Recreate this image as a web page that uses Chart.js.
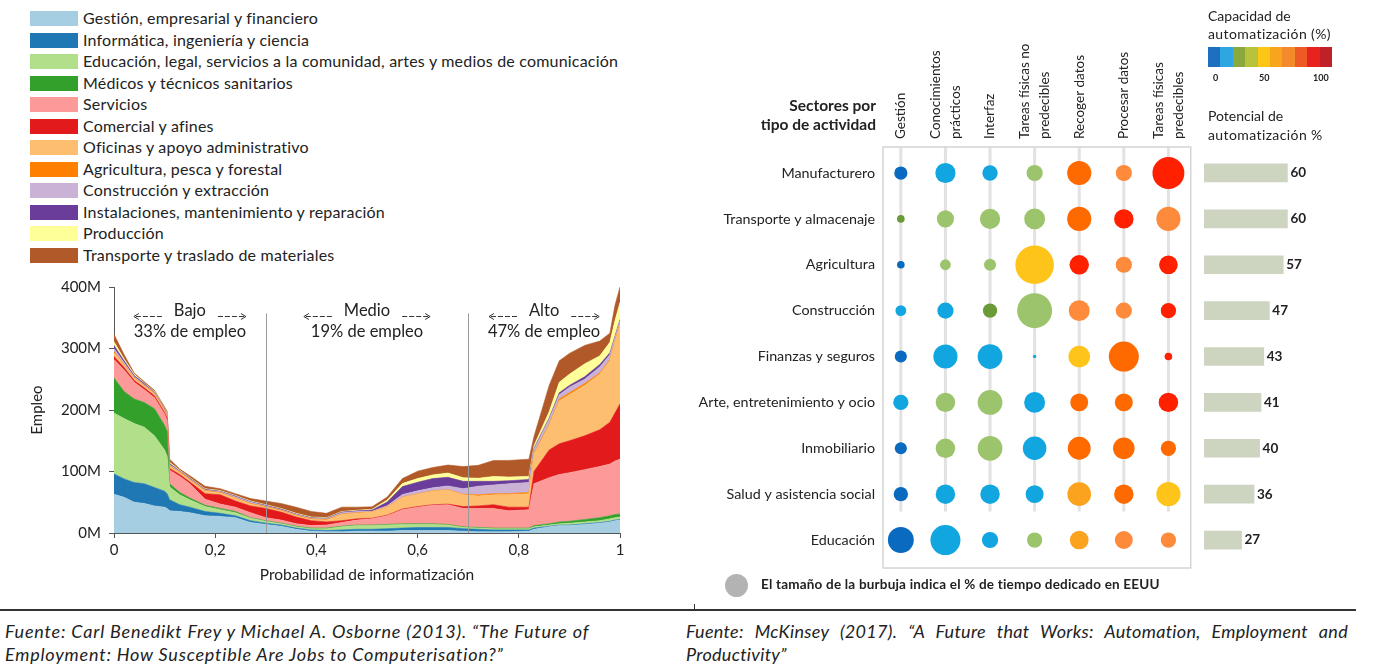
<!DOCTYPE html>
<html lang="es">
<head>
<meta charset="utf-8">
<title>Informatización y automatización del empleo</title>
<script src="https://cdn.jsdelivr.net/npm/chart.js@4.4.1/dist/chart.umd.min.js"></script>
<style>
  body { margin: 0; background: #fff; font-family: Lato, "Open Sans", sans-serif; color: #222; }
  #page { position: relative; width: 1381px; height: 672px; overflow: hidden; }
  canvas { position: absolute; }
  .item { position: absolute; left: 30px; font-size: 16px; letter-spacing: 0.2px; line-height: 18px; white-space: nowrap; }
  .item .sw { display: inline-block; width: 48px; height: 15px; vertical-align: -2px; margin-right: 5px; }
  .txt { position: absolute; white-space: nowrap; }
  #barra { position: absolute; left: 1208px; top: 47px; height: 20px; display: flex; }
  #barra div { width: 12.4px; height: 20px; }
  .fuente { position: absolute; font-size: 18px; letter-spacing: 0.8px; font-style: italic; line-height: 23px; white-space: nowrap; }
</style>
</head>
<body>
<div id="page">
  <div id="leyenda"></div>
  <canvas id="area" width="640" height="330" style="left:0;top:270px"></canvas>
  <canvas id="burbujas" width="530" height="600" style="left:680px;top:0"></canvas>
  <canvas id="barras" width="181" height="421" style="left:1200px;top:147px"></canvas>

  <div class="txt" style="left:1208px;top:7px;font-size:14px">Capacidad de</div>
  <div class="txt" style="left:1208px;top:25px;font-size:14px;letter-spacing:0.4px">automatización (%)</div>
  <div id="barra"></div>
  <div class="txt" style="left:1213px;top:72px;font-size:9px;font-weight:700">0</div>
  <div class="txt" style="left:1259px;top:72px;font-size:9px;font-weight:700">50</div>
  <div class="txt" style="left:1313px;top:72px;font-size:9px;font-weight:700">100</div>
  <div class="txt" style="left:1208px;top:107px;font-size:14px">Potencial de</div>
  <div class="txt" style="left:1208px;top:126px;font-size:14px;letter-spacing:0.4px">automatización %</div>

  <div style="position:absolute;left:725px;top:574px;width:23px;height:23px;border-radius:50%;background:#b3b3b3"></div>
  <div class="txt" style="left:761px;top:576px;font-size:13.5px;letter-spacing:0.2px;font-weight:700">El tamaño de la burbuja indica el % de tiempo dedicado en EEUU</div>

  <div style="position:absolute;left:0;top:609px;width:1356px;height:2px;background:#333"></div>
  <div style="position:absolute;left:694px;top:604px;width:1px;height:6px;background:#333"></div>
  <div class="fuente" style="left:5px;top:620px">Fuente: Carl Benedikt Frey y Michael A. Osborne (2013). “The Future of</div>
  <div class="fuente" style="left:5px;top:643px">Employment: How Susceptible Are Jobs to Computerisation?”</div>
  <div class="fuente" style="left:686px;top:620px;width:662px;white-space:normal;height:23px;overflow:hidden;text-align:justify;text-align-last:justify;letter-spacing:0.3px">Fuente: McKinsey (2017). “A Future that Works: Automation, Employment and</div>
  <div class="fuente" style="left:686px;top:643px;letter-spacing:0.3px">Productivity”</div>
</div>

<script>
// ---- panel izquierdo: empleo por probabilidad de informatización (millones) ----
const probs = [0, 0.02, 0.04, 0.06, 0.08, 0.1, 0.105, 0.11, 0.13, 0.15, 0.18, 0.21, 0.24, 0.27, 0.3,
    0.33, 0.36, 0.39, 0.42, 0.45, 0.48, 0.51, 0.54, 0.57, 0.6, 0.63, 0.66, 0.69, 0.72, 0.75,
    0.78, 0.82, 0.83, 0.86, 0.88, 0.9, 0.93, 0.96, 0.98, 0.99, 1];

const grupos = [
    "Gestión, empresarial y financiero",
    "Informática, ingeniería y ciencia",
    "Educación, legal, servicios a la comunidad, artes y medios de comunicación",
    "Médicos y técnicos sanitarios",
    "Servicios",
    "Comercial y afines",
    "Oficinas y apoyo administrativo",
    "Agricultura, pesca y forestal",
    "Construcción y extracción",
    "Instalaciones, mantenimiento y reparación",
    "Producción",
    "Transporte y traslado de materiales"
];
const colores = ["#a6cee3", "#1f78b4", "#b2df8a", "#33a02c", "#fb9a99", "#e31a1c",
    "#fdbf6f", "#ff7f00", "#cab2d6", "#6a3d9a", "#ffff99", "#b15928"];

const gestion      = [63,58,50,48,44,42,40,36,35,33,28,27,25,17,14,11,6,3,2,2,3,3,3,4,4,4,4,3,2,2,2,3,6,10,12,12,14,16,18,20,21];
const informatica  = [33,30,32,32,30,26,24,18,11,9,7,5,3,3,2,2,2,2,2,3,3,3,4,4,5,5,5,4,4,3,3,2,2,1,1,1,1,1,1,1,1];
const educacion    = [99,98,96,92,84,67,61,21,16,12,8,6,5,4,3,2,2,2,3,5,6,6,6,6,5,5,4,2,2,2,2,2,2,2,2,3,3,3,4,4,4];
const medicos      = [57,44,40,40,44,40,40,5,4,3,2,2,2,1,1,1,1,1,1,1,1,1,1,1,1,1,1,1,1,1,1,1,2,2,3,3,4,5,5,5,5];
const servicios    = [30,35,27,21,18,18,18,22,26,23,10,7,7,8,5,5,4,4,5,6,8,10,14,23,27,30,32,30,31,32,28,30,68,75,77,79,81,83,84,87,89];
const comercial    = [5,4,3,3,3,3,4,3,3,3,9,15,10,11,15,13,11,8,5,3,2,1,1,1,1,1,1,3,4,6,6,4,20,45,50,52,55,60,68,78,90];
const oficinas     = [6,4,3,3,3,3,3,3,3,3,4,3,4,3,2,2,2,2,3,10,9,10,13,19,20,22,23,19,16,16,20,22,28,40,70,75,82,90,100,115,130];
const agricultura  = [2,1,1,1,1,1,1,1,1,1,1,1,1,1,1,1,1,1,1,1,1,0.5,0.5,0.5,0.5,0.5,0.5,1,2,2,2,2,2,2,3,3,3,2,2,2,2];
const construccion = [5,3,2,1,1,1,1,2,1,1,1,1,2,2,1,1,1,1,1,2,2,1,2,4,5,5,6,9,14,14,16,16,6,8,7,9,7,10,8,6,3];
const instalacion  = [5,3,2,2,1,1,1,2,1,1,1,1,1,1,1,1,1,1,1,1,1,2,6,13,14,15,14,12,8,6,5,5,2,2,3,3,4,4,3,2,2];
const produccion   = [6,3,2,1,1,1,2,2,1,1,1,1,1,1,1,1,1,1,1,1,1,1,3,5,6,6,7,6,5,8,6,5,4,10,17,18,21,14,17,25,28];
const transporte   = [12,7,2,2,2,2,3,5,2,3,4,3,3,4,6,8,10,9,7,7,5,4,5,8,12,12,13,18,21,26,27,28,15,43,35,34,30,24,15,25,25];

const series = [gestion, informatica, educacion, medicos, servicios, comercial,
    oficinas, agricultura, construccion, instalacion, produccion, transporte];

const cortes = [0.3, 0.7];
const zonas = ["Bajo", "Medio", "Alto"];
const cuotas = ["33% de empleo", "19% de empleo", "47% de empleo"];

// ---- panel derecho: McKinsey ----
const sectores = ["Manufacturero", "Transporte y almacenaje", "Agricultura", "Construcción",
    "Finanzas y seguros", "Arte, entretenimiento y ocio", "Inmobiliario",
    "Salud y asistencia social", "Educación"];
const actividades = [["Gestión"], ["Conocimientos", "prácticos"], ["Interfaz"],
    ["Tareas físicas no", "predecibles"], ["Recoger datos"], ["Procesar datos"],
    ["Tareas físicas", "predecibles"]];

// % del tiempo dedicado (tamaño de burbuja)
const tiempo = [
    [6, 14, 8, 9, 20, 9, 35],
    [2, 10, 14, 15, 20, 13, 20],
    [2, 4, 5, 51, 13, 9, 12],
    [4, 9, 7, 42, 15, 9, 8],
    [5, 20, 21, 0.4, 16, 31, 2],
    [8, 13, 21, 15, 11, 11, 13],
    [5, 13, 21, 19, 18, 16, 8],
    [7, 13, 13, 11, 19, 13, 20],
    [23, 31, 9, 8, 12, 11, 8]
];
// capacidad de automatización % (color)
const capacidad = [
    [9, 18, 12, 35, 76, 66, 88],
    [22, 33, 34, 36, 74, 84, 67],
    [6, 34, 36, 47, 82, 65, 83],
    [14, 16, 25, 37, 64, 66, 86],
    [7, 17, 15, 13, 44, 73, 85],
    [13, 31, 33, 15, 72, 74, 84],
    [8, 32, 35, 16, 73, 75, 72],
    [6, 15, 14, 16, 56, 73, 46],
    [4, 17, 16, 34, 55, 63, 64]
];
const potencial = [60, 60, 57, 47, 43, 41, 40, 36, 27];

const coloresBurbuja = ["#0a6abf", "#12a6e0", "#6b9a38", "#9cc46c", "#fec41a",
    "#fba21f", "#fe8a3c", "#ff6a00", "#ff2000", "#c1272d"];
const coloresBarra = ["#1f6fc0", "#2ea7e0", "#8aa83e", "#b8c23a", "#fdc617",
    "#f8a41d", "#f58a2a", "#ee5a24", "#e8231f", "#be2228"];

const FONT = "Lato, 'Open Sans', sans-serif";

// leyenda izquierda
const leyenda = document.getElementById("leyenda");
grupos.forEach((g, i) => {
    const div = document.createElement("div");
    div.className = "item";
    div.style.top = (9 + i * 21.5) + "px";
    div.innerHTML = `<span class="sw" style="background:${colores[i]}"></span>${g}`;
    leyenda.appendChild(div);
});

// barra de colores
const barra = document.getElementById("barra");
coloresBarra.forEach(c => {
    const d = document.createElement("div");
    d.style.background = c;
    barra.appendChild(d);
});

function flecha(ctx, x1, x2, y) {
    const dir = Math.sign(x2 - x1);
    ctx.save();
    ctx.setLineDash([5, 2]);
    ctx.beginPath();
    ctx.moveTo(x1, y);
    ctx.lineTo(x2, y);
    ctx.stroke();
    ctx.setLineDash([]);
    ctx.beginPath();
    ctx.moveTo(x2 - dir * 5, y - 3);
    ctx.lineTo(x2, y);
    ctx.lineTo(x2 - dir * 5, y + 3);
    ctx.stroke();
    ctx.restore();
}

const zonasPlugin = {
    id: "zonas",
    afterDatasetsDraw(chart) {
        const { ctx, scales: { x, y } } = chart;
        ctx.save();
        ctx.strokeStyle = "#9a9a9a";
        ctx.lineWidth = 1;
        cortes.forEach(c => {
            const px = Math.round(x.getPixelForValue(c)) + 0.5;
            ctx.beginPath();
            ctx.moveTo(px, y.getPixelForValue(357));
            ctx.lineTo(px, y.getPixelForValue(0));
            ctx.stroke();
        });
        const limites = [0, ...cortes, 1];
        ctx.fillStyle = "#222";
        ctx.strokeStyle = "#333";
        ctx.textAlign = "center";
        ctx.textBaseline = "middle";
        ctx.font = "16.5px " + FONT;
        zonas.forEach((z, i) => {
            const cx = x.getPixelForValue((limites[i] + limites[i + 1]) / 2);
            ctx.fillText(z, cx, y.getPixelForValue(361));
            ctx.fillText(cuotas[i], cx, y.getPixelForValue(327));
            const half = ctx.measureText(z).width / 2;
            const ay = y.getPixelForValue(352);
            flecha(ctx, cx - half - 12, cx - half - 40, ay);
            flecha(ctx, cx + half + 12, cx + half + 40, ay);
        });
        ctx.restore();
    }
};

new Chart(document.getElementById("area"), {
    type: "line",
    data: {
        datasets: grupos.map((g, i) => ({
            label: g,
            data: series[i].map((v, j) => ({ x: probs[j], y: v })),
            backgroundColor: colores[i],
            borderColor: colores[i],
            borderWidth: 0.6,
            pointRadius: 0,
            tension: 0,
            fill: i === 0 ? "origin" : "-1"
        }))
    },
    options: {
        responsive: false,
        animation: false,
        layout: { padding: { top: 10, right: 20, left: 0, bottom: 0 } },
        plugins: { legend: { display: false }, tooltip: { enabled: false } },
        scales: {
            x: {
                type: "linear", min: 0, max: 1,
                ticks: {
                    stepSize: 0.2, padding: 3, color: "#222",
                    font: { family: FONT, size: 15 },
                    callback: v => String(Math.round(v * 10) / 10).replace(".", ",")
                },
                grid: { drawOnChartArea: false, color: "#555", tickLength: 5 },
                border: { color: "#555" },
                title: {
                    display: true, text: "Probabilidad de informatización", color: "#222",
                    font: { family: FONT, size: 15.5 }, padding: { top: 4, bottom: 16 }
                },
                afterFit(s) { s.height = 67; }
            },
            y: {
                stacked: true, min: 0, max: 400,
                ticks: {
                    stepSize: 100, padding: 8, color: "#222",
                    font: { family: FONT, size: 15 },
                    callback: v => v + "M"
                },
                grid: { drawOnChartArea: false, color: "#555", tickLength: 5 },
                border: { color: "#555" },
                title: {
                    display: true, text: "Empleo", color: "#222",
                    font: { family: FONT, size: 15 }, padding: { top: 28, bottom: 0 }
                },
                afterFit(s) { s.width = 114; }
            }
        }
    },
    plugins: [zonasPlugin]
});

// burbujas
const colorDe = v => coloresBurbuja[Math.min(9, Math.floor(v / 10))];
const burbujas = [];
sectores.forEach((s, i) => {
    actividades.forEach((a, j) => {
        burbujas.push({ x: j, y: i, r: 2.7 * Math.sqrt(tiempo[i][j]), c: colorDe(capacidad[i][j]) });
    });
});

const cabecerasPlugin = {
    id: "cabeceras",
    beforeDatasetsDraw(chart) {
        const { ctx, chartArea, scales: { x, y } } = chart;
        ctx.save();
        ctx.strokeStyle = "#e2e2e2";
        ctx.lineWidth = 3;
        actividades.forEach((a, j) => {
            const px = x.getPixelForValue(j);
            ctx.beginPath();
            ctx.moveTo(px, chartArea.top);
            ctx.lineTo(px, y.getPixelForValue(7.38));
            ctx.stroke();
        });
        ctx.strokeStyle = "#d4d4d4";
        ctx.lineWidth = 1.5;
        ctx.strokeRect(chartArea.left, chartArea.top, chartArea.right - chartArea.left, chartArea.bottom - chartArea.top);
        ctx.restore();
    },
    afterDraw(chart) {
        const { ctx, chartArea, scales: { x } } = chart;
        ctx.save();
        ctx.fillStyle = "#222";
        ctx.font = "13.5px " + FONT;
        ctx.textAlign = "left";
        ctx.textBaseline = "middle";
        actividades.forEach((lineas, j) => {
            ctx.save();
            ctx.translate(x.getPixelForValue(j), chartArea.top - 8);
            ctx.rotate(-Math.PI / 2);
            lineas.forEach((ln, k) => ctx.fillText(ln, 0, (k - (lineas.length - 1) / 2) * 20));
            ctx.restore();
        });
        ctx.font = "bold 15.5px " + FONT;
        ctx.textAlign = "right";
        ctx.fillText("Sectores por", chartArea.left - 7, 106);
        ctx.fillText("tipo de actividad", chartArea.left - 7, 125);
        ctx.restore();
    }
};

new Chart(document.getElementById("burbujas"), {
    type: "bubble",
    data: {
        datasets: [{
            data: burbujas,
            backgroundColor: burbujas.map(b => b.c),
            borderWidth: 0,
            hoverRadius: 0
        }]
    },
    options: {
        responsive: false,
        animation: false,
        layout: { padding: { top: 147, right: 14, bottom: 32, left: 0 } },
        plugins: { legend: { display: false }, tooltip: { enabled: false } },
        scales: {
            x: { type: "linear", min: -0.4, max: 6.5, display: false },
            y: {
                type: "linear", min: -0.567, max: 8.61, reverse: true,
                afterBuildTicks(s) { s.ticks = sectores.map((t, i) => ({ value: i })); },
                ticks: {
                    padding: 8, color: "#222", font: { family: FONT, size: 14.3 },
                    callback: v => sectores[v]
                },
                grid: { display: false, drawTicks: false, tickLength: 0 },
                border: { display: false },
                afterFit(s) { s.width = 203; }
            }
        }
    },
    plugins: [cabecerasPlugin]
});

// barras de potencial
const etiquetasPlugin = {
    id: "etiquetas",
    afterDatasetsDraw(chart) {
        const { ctx } = chart;
        ctx.save();
        ctx.fillStyle = "#222";
        ctx.font = "bold 13.5px " + FONT;
        ctx.textBaseline = "middle";
        chart.getDatasetMeta(0).data.forEach((bar, i) => {
            ctx.fillText(potencial[i], bar.x + 3, bar.y);
        });
        ctx.restore();
    }
};

new Chart(document.getElementById("barras"), {
    type: "bar",
    data: {
        labels: sectores,
        datasets: [{ data: potencial, backgroundColor: "#cdd4bf", barThickness: 18 }]
    },
    options: {
        indexAxis: "y",
        responsive: false,
        animation: false,
        layout: { padding: { top: 3, right: 38, bottom: 5, left: 4 } },
        plugins: { legend: { display: false }, tooltip: { enabled: false } },
        scales: {
            x: { min: 0, max: 100, display: false },
            y: { display: false }
        }
    },
    plugins: [etiquetasPlugin]
});
</script>
</body>
</html>
